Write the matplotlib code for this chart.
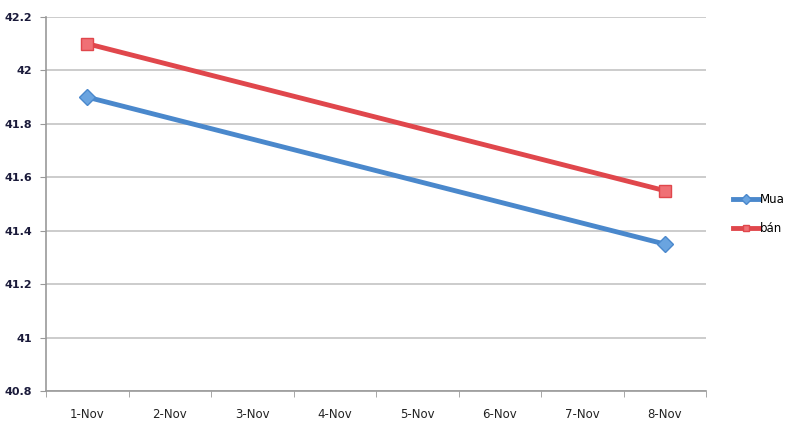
import numpy as np
import matplotlib.pyplot as plt
from matplotlib.lines import Line2D

# categories on the x axis
dates = ["1-Nov", "2-Nov", "3-Nov", "4-Nov", "5-Nov", "6-Nov", "7-Nov", "8-Nov"]

# only the first and last day carry values
point_dates = ["1-Nov", "8-Nov"]
mua = [41.9, 41.35]
ban = [42.1, 41.55]

y_ticks = [40.8, 41.0, 41.2, 41.4, 41.6, 41.8, 42.0, 42.2]
y_labels = ["40.8", "41", "41.2", "41.4", "41.6", "41.8", "42", "42.2"]

blue = "#4a88cc"
red = "#e0474c"
grid_col = "#c8c8c8"
label_col = "#1a1a3a"

fig = plt.figure(figsize=(8, 4.23), dpi=100)
ax = fig.add_axes([46 / 800, 1 - 391 / 423, 660 / 800, 374 / 423])

x_pts = [dates.index(d) for d in point_dates]

ax.plot(x_pts, mua, color=blue, linewidth=3.5, marker="D", markersize=8,
        markerfacecolor="#6aa4e0", markeredgecolor=blue, markeredgewidth=1, label="Mua", zorder=3)
ax.plot(x_pts, ban, color=red, linewidth=3.5, marker="s", markersize=9,
        markerfacecolor="#f07075", markeredgecolor=red, markeredgewidth=1, label="bán", zorder=3)

ax.set_xlim(-0.5, len(dates) - 0.5)
ax.set_ylim(40.8, 42.2)

ax.set_yticks(y_ticks)
ax.set_yticklabels(y_labels, fontsize=8, color=label_col, fontweight="bold")
ax.set_xticks(range(len(dates)))
ax.set_xticklabels(dates, fontsize=8.5, color="#222222")
ax.set_xticks(np.arange(-0.5, len(dates)), minor=True)
ax.tick_params(axis="x", which="major", length=0, pad=12)
ax.tick_params(axis="x", which="minor", length=4, color="#999999", direction="out")
ax.tick_params(axis="y", length=4, color="#999999", pad=6)

ax.grid(axis="y", color=grid_col, linewidth=1.3)
ax.set_axisbelow(True)
for s in ["top", "right"]:
    ax.spines[s].set_visible(False)
for s in ["left", "bottom"]:
    ax.spines[s].set_color("#999999")
    ax.spines[s].set_linewidth(1.2)

handles = [
    Line2D([], [], color=blue, linewidth=3.5, marker="D", markersize=5,
           markerfacecolor="#6aa4e0", markeredgecolor=blue),
    Line2D([], [], color=red, linewidth=3.5, marker="s", markersize=5,
           markerfacecolor="#f07075", markeredgecolor=red),
]
fig.legend(handles, ["Mua", "bán"], loc="center left", bbox_to_anchor=(722 / 800, 1 - 214 / 423),
           frameon=False, fontsize=8.5, handlelength=2.2, handletextpad=0.1, labelspacing=1.3)

plt.savefig("out.png", dpi=100)
